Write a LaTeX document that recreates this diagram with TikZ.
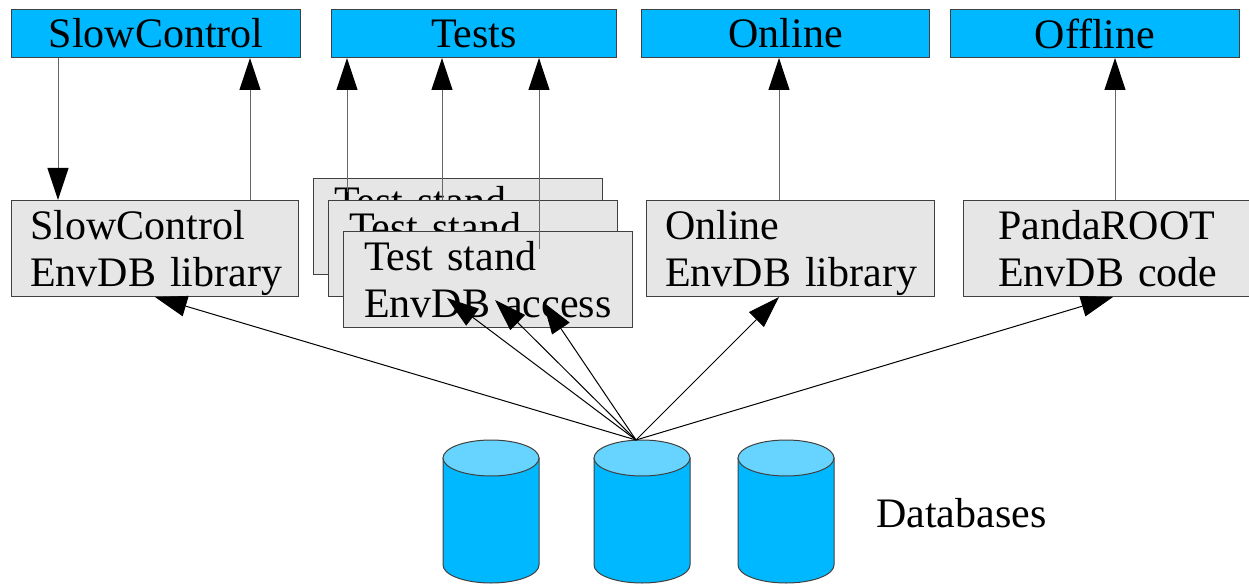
\documentclass[tikz,border=0pt]{standalone}
\usepackage{fontspec}
\setmainfont{Liberation Serif}
\usetikzlibrary{arrows.meta,calc}

\definecolor{skyfill}{HTML}{00B8FF}
\definecolor{skytop}{HTML}{66D4FF}
\definecolor{libfill}{HTML}{E6E6E6}
\definecolor{edge}{HTML}{404040}
\definecolor{wire}{HTML}{666666}

\newcommand{\bigtext}{\fontsize{42}{47}\selectfont}

\tikzset{
  appbox/.style={draw=edge, fill=skyfill, line width=1pt, anchor=north west,
    minimum height=48pt, inner sep=0pt, font=\bigtext},
  libbox/.style={draw=edge, fill=libfill, line width=1pt, anchor=north west,
    minimum height=96pt, inner sep=0pt},
  libtext/.style={anchor=base west, align=left, text width=280pt,
    inner sep=0pt, font=\bigtext},
  head/.style={-{Triangle[length=32pt,width=21pt,color=black]}},
  uplink/.style={draw=wire, line width=1pt, head},
  dblink/.style={draw=black, line width=1pt, head},
  drum/.style={draw=edge, line width=1pt},
}

\begin{document}
\begin{tikzpicture}[x=1pt,y=1pt]
  \useasboundingbox (0,0) rectangle (1249,-585);

  % applications on top
  \node[appbox, minimum width=289pt] (sc)  at (11,-9)  {SlowControl};
  \node[appbox, minimum width=285pt] (tst) at (331,-9) {Tests};
  \node[appbox, minimum width=288pt] (onl) at (641,-9) {Online};
  \node[appbox, minimum width=289pt] (off) at (950,-9) {Offline};

  % access layers
  \node[libbox, minimum width=287pt] (scl) at (11,-200) {};
  \node[libtext] (scltxt) at ([shift={(19,-40)}]scl.north west)
    {SlowControl\\EnvDB library};

  \node[libbox, minimum width=289pt] (ts1) at (313,-178) {};
  \node[libtext] (ts1txt) at ([shift={(21,-38)}]ts1.north west) {Test stand};
  \node[libbox, minimum width=289pt] (ts2) at (328,-200) {};
  \node[libtext] (ts2txt) at ([shift={(21,-41)}]ts2.north west) {Test stand};
  \node[libbox, minimum width=289pt] (ts3) at (343,-231) {};
  \node[libtext] (ts3txt) at ([shift={(21,-39)}]ts3.north west)
    {Test stand\\EnvDB access};

  \node[libbox, minimum width=288pt] (onll) at (646,-200) {};
  \node[libtext] (onltxt) at ([shift={(19,-40)}]onll.north west)
    {Online\\EnvDB library};

  \node[libbox, minimum width=292pt] (pr) at (963,-200) {};
  \node[libtext] (prtxt) at ([shift={(35,-40)}]pr.north west)
    {PandaROOT\\EnvDB code};

  % links between applications and access layers
  \draw[uplink] ($(sc.south west)+(47,0)$) -- ($(scl.north west)+(47,0)$);
  \draw[uplink] ($(scl.north west)+(239,0)$) -- ($(sc.south west)+(239,0)$);

  \coordinate (t1) at (347,-192);
  \coordinate (t3) at (539,-249);
  \draw[uplink] (t1) -- (t1 |- tst.south);
  \draw[uplink] ($(ts2.north west)+(114,0)$) -- ($(tst.south west)+(111,0)$);
  \draw[uplink] (t3) -- (t3 |- tst.south);

  \draw[uplink] ($(onll.north west)+(133,0)$) -- ($(onl.south west)+(138,0)$);
  \draw[uplink] ($(pr.north west)+(152,0)$) -- ($(off.south west)+(165,0)$);

  % databases
  \foreach \cx in {491,642,786} {
    \filldraw[drum, fill=skyfill] (\cx-48,-458) -- (\cx-48,-565)
      arc[start angle=180, end angle=360, x radius=48, y radius=18]
      -- (\cx+48,-458) -- cycle;
    \filldraw[drum, fill=skytop] (\cx,-458) ellipse[x radius=48, y radius=18];
  }
  \node[anchor=base west, inner sep=0pt, font=\bigtext] (dblabel) at (876,-527) {Databases};

  % links from the databases to the access layers
  \coordinate (hub) at (636,-440);
  \coordinate (tipsc) at (155,-297);
  \coordinate (tipa) at (447,-298);
  \coordinate (tipb) at (495,-300);
  \coordinate (tipc) at (543,-302);
  \coordinate (tiponl) at (779,-297);
  \coordinate (tippr) at (1113,-297);
  \foreach \t in {tipsc,tipa,tipb,tipc,tiponl,tippr}
    \draw[dblink] (hub) -- (\t);
\end{tikzpicture}
\end{document}
